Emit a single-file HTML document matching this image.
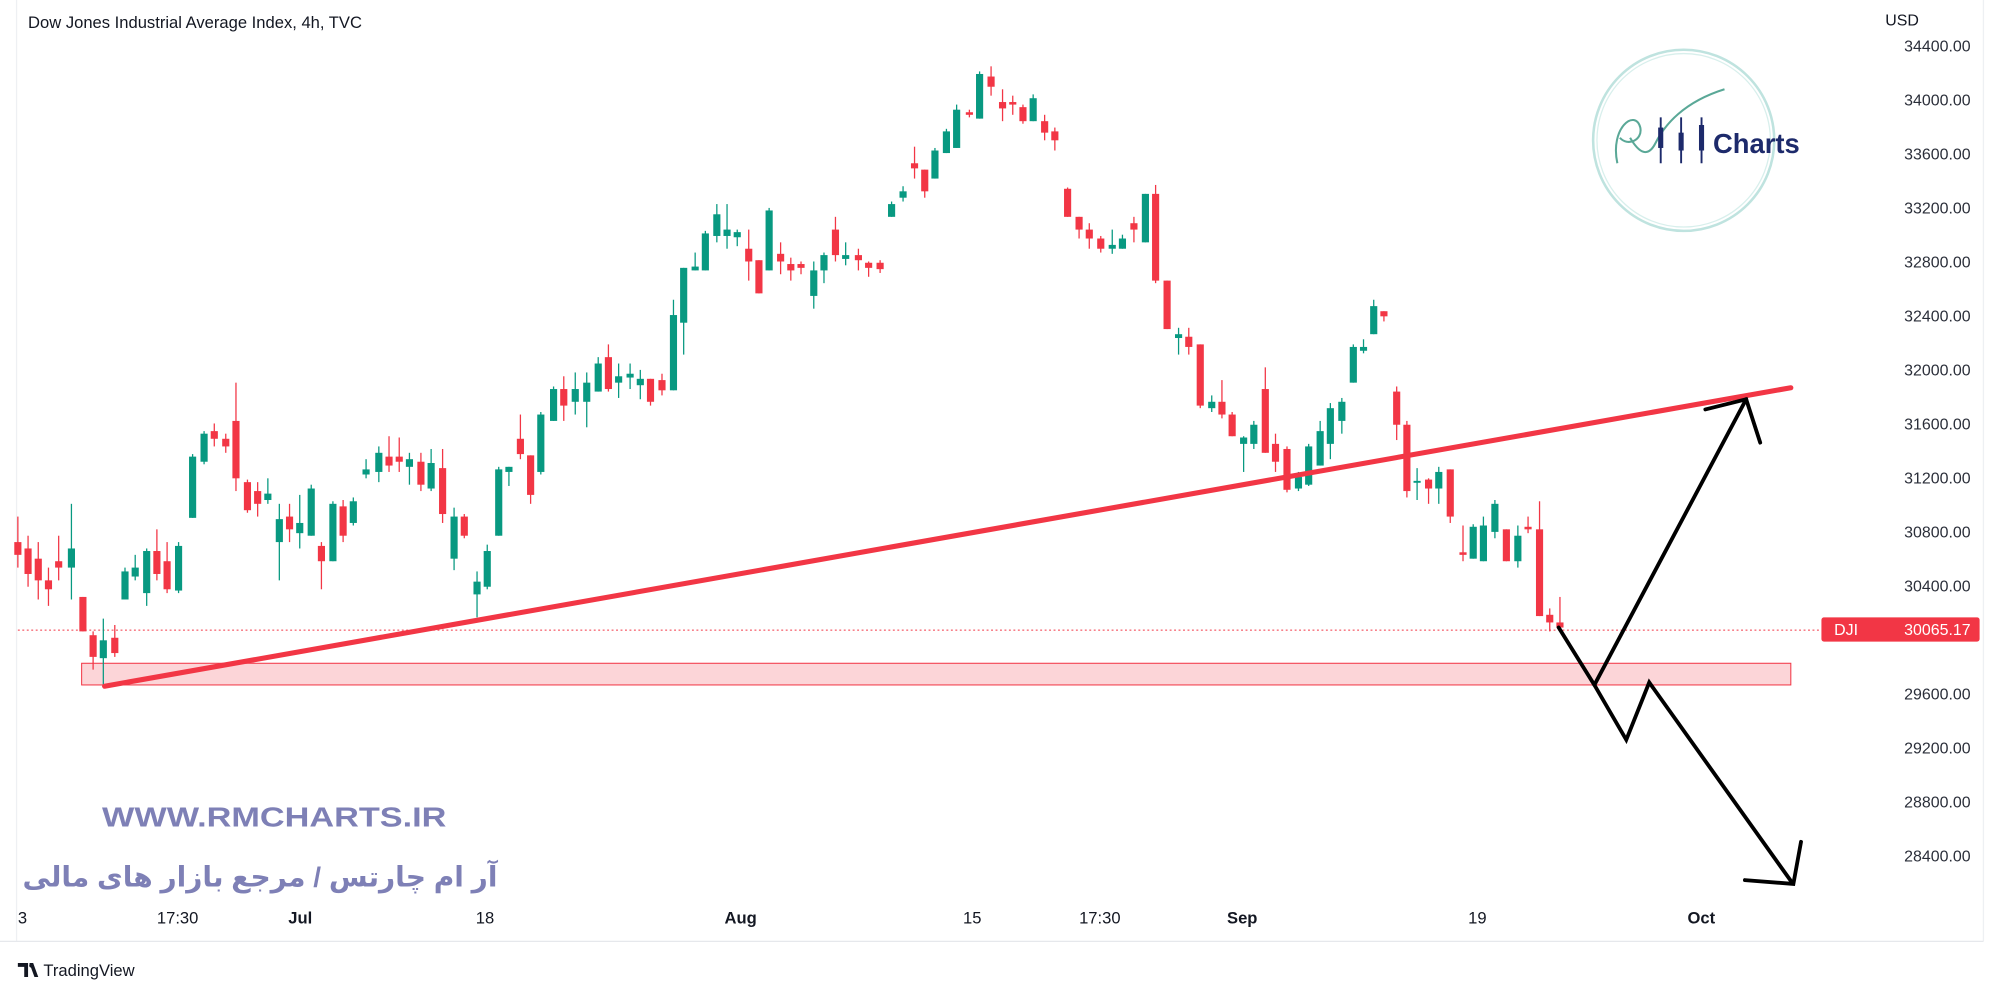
<!DOCTYPE html>
<html><head><meta charset="utf-8">
<style>
html,body{margin:0;padding:0;background:#fff;}
svg{display:block;}
</style></head>
<body>
<svg id="s" width="2000" height="1000" viewBox="0 0 1568 784" xmlns="http://www.w3.org/2000/svg" font-family="Liberation Sans, sans-serif">
<rect width="1568" height="784" fill="#fff"/>
<line x1="13" y1="0" x2="13" y2="738" stroke="#eef0f3" stroke-width="1"/>
<line x1="1555" y1="0" x2="1555" y2="738" stroke="#eef0f3" stroke-width="1"/>
<line x1="0" y1="738" x2="1555" y2="738" stroke="#e6e8ec" stroke-width="1"/>
<text x="22" y="22" font-size="13" fill="#131722">Dow Jones Industrial Average Index, 4h, TVC</text>
<line x1="14" y1="494" x2="1428" y2="494" stroke="#f23645" stroke-width="0.8" stroke-dasharray="1.5,2"/>
<rect x="64" y="520" width="1340" height="17" fill="#fcd5d8" stroke="#f23645" stroke-width="0.8"/>
<g id="c"></g>
<line x1="82" y1="538" x2="1404" y2="304" stroke="#f23645" stroke-width="4" stroke-linecap="round"/>
<g stroke="#000" stroke-width="3" fill="none" stroke-linecap="round" stroke-linejoin="miter">
<polyline points="1222,492 1250,537 1275,580 1293,535 1405,692"/>
<polyline points="1368,690 1406,693 1412,660"/>
<polyline points="1250,537 1369,313"/>
<polyline points="1337,321 1369,313 1380,347"/>
</g>
<g>
<circle cx="1320" cy="110" r="71" fill="none" stroke="#bfe3df" stroke-width="2"/>
<circle cx="1320" cy="110" r="68" fill="none" stroke="#d8efec" stroke-width="1"/>
<path d="M1268,128 C1262,100 1282,85 1286,100 C1288,110 1276,115 1270,108 M1278,108 C1285,120 1292,124 1298,112 C1305,98 1320,80 1352,70" fill="none" stroke="#5aa897" stroke-width="1.6"/>
<g stroke="#1d2a6b" stroke-width="1.5"><line x1="1302" y1="92" x2="1302" y2="128"/><line x1="1318" y1="92" x2="1318" y2="128"/><line x1="1334" y1="92" x2="1334" y2="128"/></g>
<rect x="1300" y="100" width="4" height="16" fill="#1d2a6b"/><rect x="1316" y="104" width="4" height="14" fill="#1d2a6b"/><rect x="1332" y="98" width="4" height="20" fill="#1d2a6b"/>
<text x="1343" y="120" font-size="22" font-weight="bold" fill="#1d2a6b" textLength="68" lengthAdjust="spacingAndGlyphs">Charts</text>
</g>
<text x="80" y="648" font-size="22" font-weight="bold" fill="#7e80b6" textLength="270" lengthAdjust="spacingAndGlyphs">WWW.RMCHARTS.IR</text>
<text x="390" y="695" font-size="22" font-weight="bold" fill="#7e80b6" text-anchor="start" font-family="Liberation Sans, 'Noto Sans CJK SC', 'DejaVu Sans', sans-serif" direction="rtl">آر ام چارتس / مرجع بازار های مالی</text>
<g font-size="13" fill="#131722">
<text x="14" y="724">3</text>
<text x="123" y="724">17:30</text>
<text x="226" y="724" font-weight="bold">Jul</text>
<text x="373" y="724">18</text>
<text x="568" y="724" font-weight="bold">Aug</text>
<text x="755" y="724">15</text>
<text x="846" y="724">17:30</text>
<text x="962" y="724" font-weight="bold">Sep</text>
<text x="1151" y="724">19</text>
<text x="1323" y="724" font-weight="bold">Oct</text>
</g>
<text x="1478" y="20" font-size="12.5" fill="#131722">USD</text>
<g id="ax" font-size="12.5" fill="#2a2e39" text-anchor="end"></g>
<rect x="1428" y="484" width="124" height="19" rx="2" fill="#f23645"/>
<text x="1438" y="498" font-size="12.5" fill="#fff">DJI</text>
<text x="1545" y="498" font-size="12.5" fill="#fff" text-anchor="end">30065.17</text>
<g transform="translate(14,752)">
<path d="M0,3 H8 V14 H5 V6 H0 Z M9,3 H12 L16,14 H13 Z" fill="#131722"/>
<circle cx="10.5" cy="5" r="1.6" fill="#131722"/>
<text x="20" y="13" font-size="13" fill="#131722">TradingView</text>
</g>
</svg>
<script>
var G='#089981',R='#f23645';
var d=[
[14,R,425,435,405,445],[22,R,430,450,420,460],[30,R,438,455,425,470],[38,R,455,462,445,475],[46,R,440,445,420,455],
[56,G,430,445,395,470],[65,R,468,495,468,495],[73,R,498,515,495,525],[81,G,502,516,485,538],[90,R,500,512,490,515],
[98,G,448,470,445,470],[106,G,445,452,435,455],[115,G,432,465,430,475],[123,R,432,450,415,455],[131,R,440,462,425,465],
[140,G,428,463,425,465],[151,G,358,406,356,406],[160,G,340,362,338,364],[168,R,338,344,332,350],[177,R,344,350,340,355],
[185,R,330,375,300,385],[194,R,378,400,376,402],[202,R,385,395,378,405],[210,G,387,392,375,395],[219,G,407,425,395,455],
[227,R,405,415,395,425],[235,G,410,418,388,430],[244,G,383,420,380,420],[252,R,428,440,425,462],[261,G,395,440,393,440],
[269,R,397,420,392,425],[277,G,393,410,390,412],[287,G,368,372,360,375],[297,G,355,370,350,378],[305,R,358,365,342,370],
[313,R,358,362,343,370],[321,G,360,366,355,380],[330,R,362,380,355,385],[338,G,363,383,352,385],[347,R,367,403,352,410],
[356,G,405,438,398,447],[364,R,405,420,403,422],[374,G,456,466,448,484],[382,G,432,460,427,462],[391,G,368,420,366,420],
[399,G,366,370,366,381],[408,R,344,356,325,360],[416,R,357,388,357,395],[424,G,325,370,323,372],[434,G,305,330,303,330],
[442,R,305,318,295,330],[451,G,305,315,292,325],[460,G,300,315,292,335],[469,G,285,307,280,307],[477,R,280,305,270,307],
[485,G,295,300,285,312],[494,G,293,296,285,305],[502,G,297,302,290,313],[510,R,297,315,297,318],[519,R,298,306,293,310],
[528,G,247,306,235,306],[536,G,210,253,210,278],[545,G,209,212,198,212],[553,G,183,212,181,212],[562,G,168,185,160,190],
[570,G,180,185,160,195],[578,G,182,186,180,193],[587,R,195,205,180,220],[595,R,204,230,204,230],[603,G,165,212,163,212],
[612,R,199,205,190,215],[620,R,207,212,202,220],[628,R,207,210,205,215],[638,G,212,232,205,242],[646,G,200,212,198,222],
[655,R,180,200,170,205],[663,G,200,203,190,208],[673,R,200,204,195,212],[681,R,206,210,205,217],[690,R,206,211,204,214],
[699,G,160,170,158,170],[708,G,150,155,146,158],[717,R,128,132,115,140],[725,R,133,150,133,155],[733,G,118,140,116,140],
[742,G,103,120,101,120],[750,G,86,116,82,116],[760,R,88,90,86,92],[768,G,58,93,56,93],[777,R,60,68,52,75],
[786,R,80,85,70,95],[794,R,80,82,75,90],[802,R,84,95,82,97],[810,G,77,95,74,95],[819,R,95,104,90,110],[827,R,103,110,100,118],
[837,R,148,170,147,170],[846,R,170,180,170,187],[854,R,180,187,175,195],[863,R,187,195,185,198],[872,G,192,195,180,199],
[880,G,187,195,184,195],[889,R,175,180,170,190],[898,G,152,190,152,190],[906,R,152,220,145,222],[915,R,220,258,220,258],
[924,G,262,265,257,278],[932,R,264,272,257,278],[941,R,270,318,270,320],[950,G,315,320,310,323],[958,R,315,325,298,328],
[966,R,325,342,323,342],[975,G,343,348,342,370],[983,G,333,348,330,352],[992,R,305,355,288,355],[1000,R,348,362,340,370],
[1009,R,352,384,350,386],[1018,G,374,383,370,385],[1026,G,350,380,348,381],[1035,G,338,365,330,365],[1043,G,320,348,316,360],
[1052,G,315,330,312,340],[1061,G,272,300,270,300],[1069,G,272,275,266,277],[1077,G,240,262,235,262],[1085,R,244,248,244,252],
[1095,R,307,333,303,345],[1103,R,333,385,330,390],[1111,G,377,378,367,392],[1120,R,376,383,375,395],[1128,G,370,383,366,395],
[1137,R,368,405,368,410],[1147,R,433,435,412,440],[1155,G,413,438,411,438],[1163,G,412,440,405,440],[1172,G,395,417,392,422],
[1181,R,415,440,415,440],[1190,G,420,440,412,445],[1198,R,413,415,405,418],[1207,R,415,483,393,483],[1215,R,482,488,477,495],
[1223,R,488,492,468,492]];
var g=document.getElementById('c'),h='';
d.forEach(function(a){var x=a[0],c=a[1];
h+='<line x1="'+x+'" x2="'+x+'" y1="'+a[4]+'" y2="'+a[5]+'" stroke="'+c+'" stroke-width="1"/>';
h+='<rect x="'+(x-2.8)+'" y="'+a[2]+'" width="5.6" height="'+Math.max(1.5,a[3]-a[2])+'" fill="'+c+'"/>';});
g.innerHTML=h;
var ax=document.getElementById('ax'),t='';
for(var k=0;k<16;k++){var p=34400-k*400,y=36+k*42.33;if(p===30000)continue;
t+='<text x="1545" y="'+(y+4.5)+'">'+p+'.00</text>';}
ax.innerHTML=t;
</script>
</body></html>
